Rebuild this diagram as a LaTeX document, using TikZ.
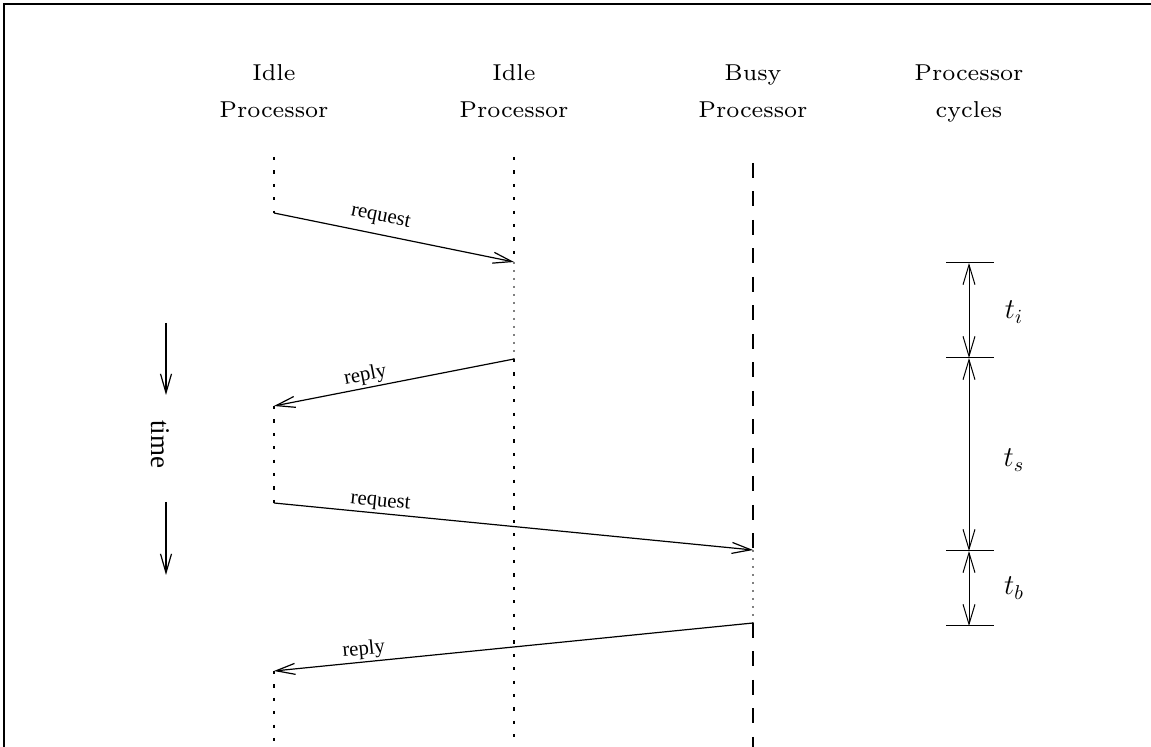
\documentclass[tikz,border=0pt]{standalone}
\usepackage{fontspec}
\newfontfamily\msgfont{Liberation Serif}
\font\hdrfont=cmr7 at 11.5pt
\usetikzlibrary{arrows.meta}

\begin{document}
\begin{tikzpicture}[x=0.5pt, y=-0.5pt,
  hdr/.style={align=center, anchor=north, inner sep=0pt, font=\hdrfont},
  msg/.style={-{Straight Barb[length=9.5pt,width=5.5pt]}, line width=0.6pt},
  rmsg/.style={{Straight Barb[length=9.5pt,width=5.5pt]}-, line width=0.6pt},
  lbl/.style={sloped, above, inner sep=1pt, font={\msgfont\fontsize{10.4}{12}\selectfont}},
  idle/.style={line width=1.2pt, dash pattern=on 1.6pt off 5.1pt},
  busy/.style={line width=1.4pt, dash pattern=on 7.5pt off 6.75pt},
  work/.style={gray, line width=0.7pt, dash pattern=on 1pt off 3pt},
  cyclemark/.style={line width=0.5pt},
  cycspan/.style={{Straight Barb[length=10pt,width=6pt]}-{Straight Barb[length=10pt,width=6pt]}, line width=0.5pt},
  tlbl/.style={font=\fontsize{14.5}{17}\selectfont},
]
\useasboundingbox (0,0) rectangle (1151,747);
\draw[line width=1.2pt] (4,747) -- (4,4) -- (1151,4);

\node[hdr] (p1) at (274,64) {Idle\\[6.5pt]Processor};
\node[hdr] (p2) at (514,64) {Idle\\[6.5pt]Processor};
\node[hdr] (p3) at (753,64) {Busy\\[6.5pt]Processor};
\node[hdr] (pc) at (969,64) {Processor\\[6.5pt]cycles};

\coordinate (a0) at (274,157);
\coordinate (a1) at (274,213);
\coordinate (a2) at (274,406);
\coordinate (a3) at (274,503);
\coordinate (a4) at (274,671);
\coordinate (a5) at (274,747);
\coordinate (b0) at (514,157);
\coordinate (b1) at (514,262);
\coordinate (b2) at (514,359);
\coordinate (b3) at (514,747);
\coordinate (c0) at (753,163);
\coordinate (c1) at (753,550);
\coordinate (c2) at (753,623);
\coordinate (c3) at (753,747);

\draw[idle] (a0) -- (a1);
\draw[idle] (a2) -- (a3);
\draw[idle] (a4) -- (a5);
\draw[idle] (b0) -- (b1);
\draw[work] (b1) -- (b2);
\draw[idle] (b2) -- (b3);
\draw[busy] (c0) -- (c1);
\draw[work] (c1) -- (c2);
\draw[busy] (c2) -- (c3);

\draw[msg] (a1) -- node[lbl, above=3pt, pos=0.43] {request} (b1);
\draw[rmsg] (a2) -- node[lbl, pos=0.39] {reply} (b2);
\draw[msg] (a3) -- node[lbl, pos=0.22] {request} (c1);
\draw[rmsg] (a4) -- node[lbl, pos=0.19] {reply} (c2);

\coordinate (ta0) at (166,323);
\coordinate (ta1) at (166,395);
\coordinate (tb0) at (166,502);
\coordinate (tb1) at (166,575);
\draw[msg] (ta0) -- (ta1);
\draw[msg] (tb0) -- (tb1);
\node[rotate=-90, font={\msgfont\fontsize{13.5}{16}\selectfont}] (tm) at (160,444) {time};

\foreach \n/\y in {1/263, 2/358, 3/551, 4/626} {
  \coordinate (k\n) at (969,\y);
  \draw[cyclemark] (946,\y) -- (994,\y);
}
\draw[cycspan] (k1) -- (k2);
\draw[cycspan] (k2) -- (k3);
\draw[cycspan] (k3) -- (k4);
\node[tlbl] (ti) at (1014,312) {$t_i$};
\node[tlbl] (ts) at (1014,460) {$t_s$};
\node[tlbl] (tb) at (1014,588) {$t_b$};
\end{tikzpicture}
\end{document}
